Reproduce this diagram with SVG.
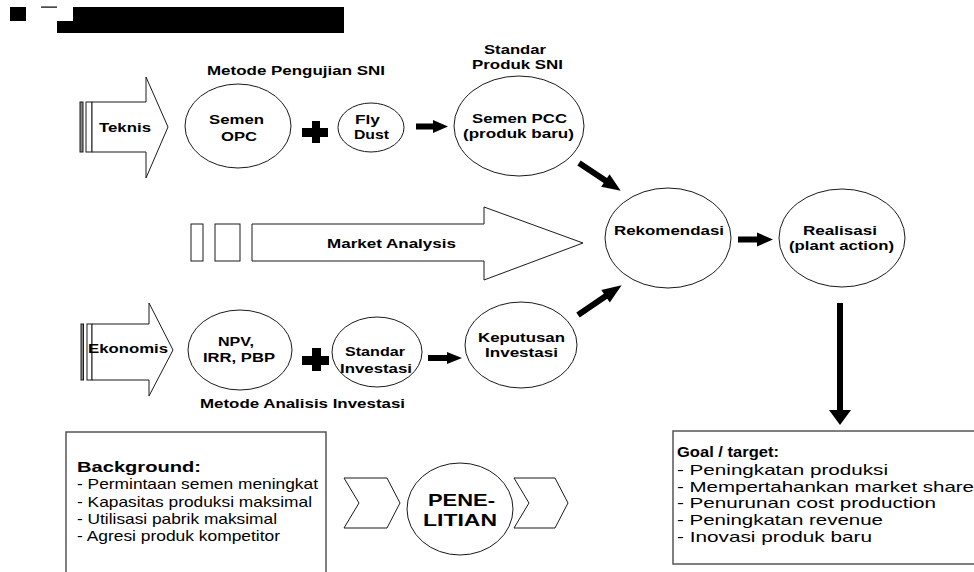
<svg xmlns="http://www.w3.org/2000/svg" width="974" height="572" viewBox="0 0 974 572">
<style>
.bg{fill:#ffffff}
.node{fill:#ffffff;stroke:#1a1a1a;stroke-width:1}
.box{fill:#ffffff;stroke:#555555;stroke-width:1.5}
.blk{fill:#000000;stroke:none}
.lbl{font-family:"Liberation Sans",Arial,sans-serif;font-weight:bold;font-size:13.5px;fill:#000}
.big{font-family:"Liberation Sans",Arial,sans-serif;font-weight:bold;font-size:17px;fill:#000}
.txt{font-family:"Liberation Sans",Arial,sans-serif;font-size:15px;fill:#000}
.txtb{font-family:"Liberation Sans",Arial,sans-serif;font-weight:bold;font-size:15px;fill:#000}
</style>
<defs>
<path id="barrow" d="M0,-3 L24,-3 L24,-7.5 L38,0 L24,7.5 L24,3 L0,3 Z"/>
</defs>
<rect class="bg" x="0" y="0" width="974" height="572"/>

<g id="header">
<rect class="blk" x="10" y="7" width="16" height="14"/>
<rect class="blk" x="41" y="6.5" width="16" height="1.2"/>
<polygon class="blk" points="73,7 344,7 344,33 57,33 57,21 73,21"/>
</g>

<g id="teknis">
<rect class="node" x="80" y="102" width="3" height="50" style="fill:#888"/>
<rect class="node" x="86" y="102" width="6" height="50"/>
<polygon class="node" points="92,102 146,102 146,77 168,127 146,178 146,152 92,152"/>
<text class="lbl" x="99" y="132" textLength="52" lengthAdjust="spacingAndGlyphs">Teknis</text>
</g>

<g id="metode-pengujian">
<text class="lbl" x="207" y="75" textLength="178" lengthAdjust="spacingAndGlyphs">Metode Pengujian SNI</text>
</g>

<g id="semen-opc">
<ellipse class="node" cx="238" cy="126" rx="53" ry="42"/>
<text class="lbl" x="209" y="124" textLength="55" lengthAdjust="spacingAndGlyphs">Semen</text>
<text class="lbl" x="221" y="141" textLength="36" lengthAdjust="spacingAndGlyphs">OPC</text>
</g>

<g id="fly-dust">
<ellipse class="node" cx="371" cy="127.5" rx="33" ry="24.5"/>
<text class="lbl" x="355" y="124" textLength="25" lengthAdjust="spacingAndGlyphs">Fly</text>
<text class="lbl" x="354" y="139" textLength="35" lengthAdjust="spacingAndGlyphs">Dust</text>
</g>

<g id="standar-produk">
<text class="lbl" x="484" y="54" textLength="62" lengthAdjust="spacingAndGlyphs">Standar</text>
<text class="lbl" x="472" y="69" textLength="91" lengthAdjust="spacingAndGlyphs">Produk SNI</text>
</g>

<g id="semen-pcc">
<ellipse class="node" cx="519" cy="126" rx="65" ry="50"/>
<text class="lbl" x="472" y="123" textLength="95" lengthAdjust="spacingAndGlyphs">Semen PCC</text>
<text class="lbl" x="463" y="138" textLength="111" lengthAdjust="spacingAndGlyphs">(produk baru)</text>
</g>

<g id="market-analysis">
<rect class="node" x="191" y="224" width="12" height="37"/>
<rect class="node" x="215" y="224" width="25" height="37"/>
<polygon class="node" points="252,224 484,224 484,207 583,243 484,280 484,261 252,261"/>
<text class="lbl" x="327" y="248" textLength="129" lengthAdjust="spacingAndGlyphs">Market Analysis</text>
</g>

<g id="rekomendasi">
<ellipse class="node" cx="668" cy="238" rx="63" ry="50"/>
<text class="lbl" x="614" y="235" textLength="110" lengthAdjust="spacingAndGlyphs">Rekomendasi</text>
</g>

<g id="realisasi">
<ellipse class="node" cx="842" cy="238" rx="63" ry="49"/>
<text class="lbl" x="803" y="235" textLength="74" lengthAdjust="spacingAndGlyphs">Realisasi</text>
<text class="lbl" x="789" y="250" textLength="105" lengthAdjust="spacingAndGlyphs">(plant action)</text>
</g>

<g id="ekonomis">
<rect class="node" x="81" y="324" width="2.5" height="56" style="fill:#888"/>
<rect class="node" x="87" y="324" width="5" height="56"/>
<polygon class="node" points="92,324 149,324 149,303 173,350 149,396 149,380 92,380"/>
<text class="lbl" x="88" y="353" textLength="80" lengthAdjust="spacingAndGlyphs">Ekonomis</text>
</g>

<g id="npv">
<ellipse class="node" cx="240" cy="350" rx="52" ry="40"/>
<text class="lbl" x="218" y="346" textLength="36" lengthAdjust="spacingAndGlyphs">NPV,</text>
<text class="lbl" x="203" y="362" textLength="72" lengthAdjust="spacingAndGlyphs">IRR, PBP</text>
</g>

<g id="standar-investasi">
<ellipse class="node" cx="377" cy="352" rx="45" ry="35"/>
<text class="lbl" x="345" y="356" textLength="60" lengthAdjust="spacingAndGlyphs">Standar</text>
<text class="lbl" x="340" y="373" textLength="72" lengthAdjust="spacingAndGlyphs">Investasi</text>
</g>

<g id="keputusan-investasi">
<ellipse class="node" cx="521" cy="345" rx="56" ry="43"/>
<text class="lbl" x="478" y="342" textLength="87" lengthAdjust="spacingAndGlyphs">Keputusan</text>
<text class="lbl" x="485" y="357" textLength="73" lengthAdjust="spacingAndGlyphs">Investasi</text>
</g>

<g id="metode-analisis">
<text class="lbl" x="200" y="408" textLength="205" lengthAdjust="spacingAndGlyphs">Metode Analisis Investasi</text>
</g>

<g id="background">
<path class="box" d="M66,580 L66,432 L326,432 L326,580"/>
<text class="txtb" x="77" y="472" textLength="124" lengthAdjust="spacingAndGlyphs">Background:</text>
<text class="txt" x="77" y="489" textLength="241" lengthAdjust="spacingAndGlyphs">- Permintaan semen meningkat</text>
<text class="txt" x="77" y="507" textLength="235" lengthAdjust="spacingAndGlyphs">- Kapasitas produksi maksimal</text>
<text class="txt" x="77" y="524" textLength="200" lengthAdjust="spacingAndGlyphs">- Utilisasi pabrik maksimal</text>
<text class="txt" x="77" y="541" textLength="203" lengthAdjust="spacingAndGlyphs">- Agresi produk kompetitor</text>
</g>

<g id="chevron-1">
<polygon class="node" points="344,478 387,478 400,503 387,528 344,528 359,503"/>
</g>

<g id="penelitian">
<ellipse class="node" cx="460" cy="509" rx="53" ry="46"/>
<text class="big" x="428" y="506" textLength="67" lengthAdjust="spacingAndGlyphs">PENE-</text>
<text class="big" x="423" y="526" textLength="74" lengthAdjust="spacingAndGlyphs">LITIAN</text>
</g>

<g id="chevron-2">
<polygon class="node" points="514,478 555,478 568,503 555,528 514,528 529,503"/>
</g>

<g id="goal">
<path class="box" d="M980,431 L673,431 L673,564 L980,564"/>
<text class="txtb" x="677" y="457" textLength="102" lengthAdjust="spacingAndGlyphs">Goal / target:</text>
<text class="txt" x="677" y="475" textLength="211" lengthAdjust="spacingAndGlyphs">- Peningkatan produksi</text>
<text class="txt" x="677" y="492" textLength="297" lengthAdjust="spacingAndGlyphs">- Mempertahankan market share</text>
<text class="txt" x="677" y="508" textLength="259" lengthAdjust="spacingAndGlyphs">- Penurunan cost production</text>
<text class="txt" x="677" y="525" textLength="206" lengthAdjust="spacingAndGlyphs">- Peningkatan revenue</text>
<text class="txt" x="677" y="542" textLength="195" lengthAdjust="spacingAndGlyphs">- Inovasi produk baru</text>
</g>

<g id="connectors">
<polygon class="blk" points="302,128 312,128 312,121 320,121 320,128 328,128 328,137 320,137 320,143 312,143 312,137 302,137"/>
<polygon class="blk" points="302,356 312,356 312,348 321,348 321,356 329,356 329,365 321,365 321,371 312,371 312,365 302,365"/>
<polygon class="blk" points="416,123.5 433,123.5 433,120 448,126.5 433,133 433,129.5 416,129.5"/>
<polygon class="blk" points="428,355 447,355 447,352 462,358 447,364 447,361 428,361"/>
<polygon class="blk" points="738,236.5 757,236.5 757,232.5 773,239.5 757,246.5 757,242.5 738,242.5"/>
<polygon class="blk" points="837,303 843,303 843,410 851,410 840,425 829,410 837,410"/>
<use href="#barrow" class="blk" transform="translate(579,163) rotate(33.7) scale(1.32,1)"/>
<use href="#barrow" class="blk" transform="translate(578,315) rotate(-34.3) scale(1.39,1)"/>
</g>
</svg>
